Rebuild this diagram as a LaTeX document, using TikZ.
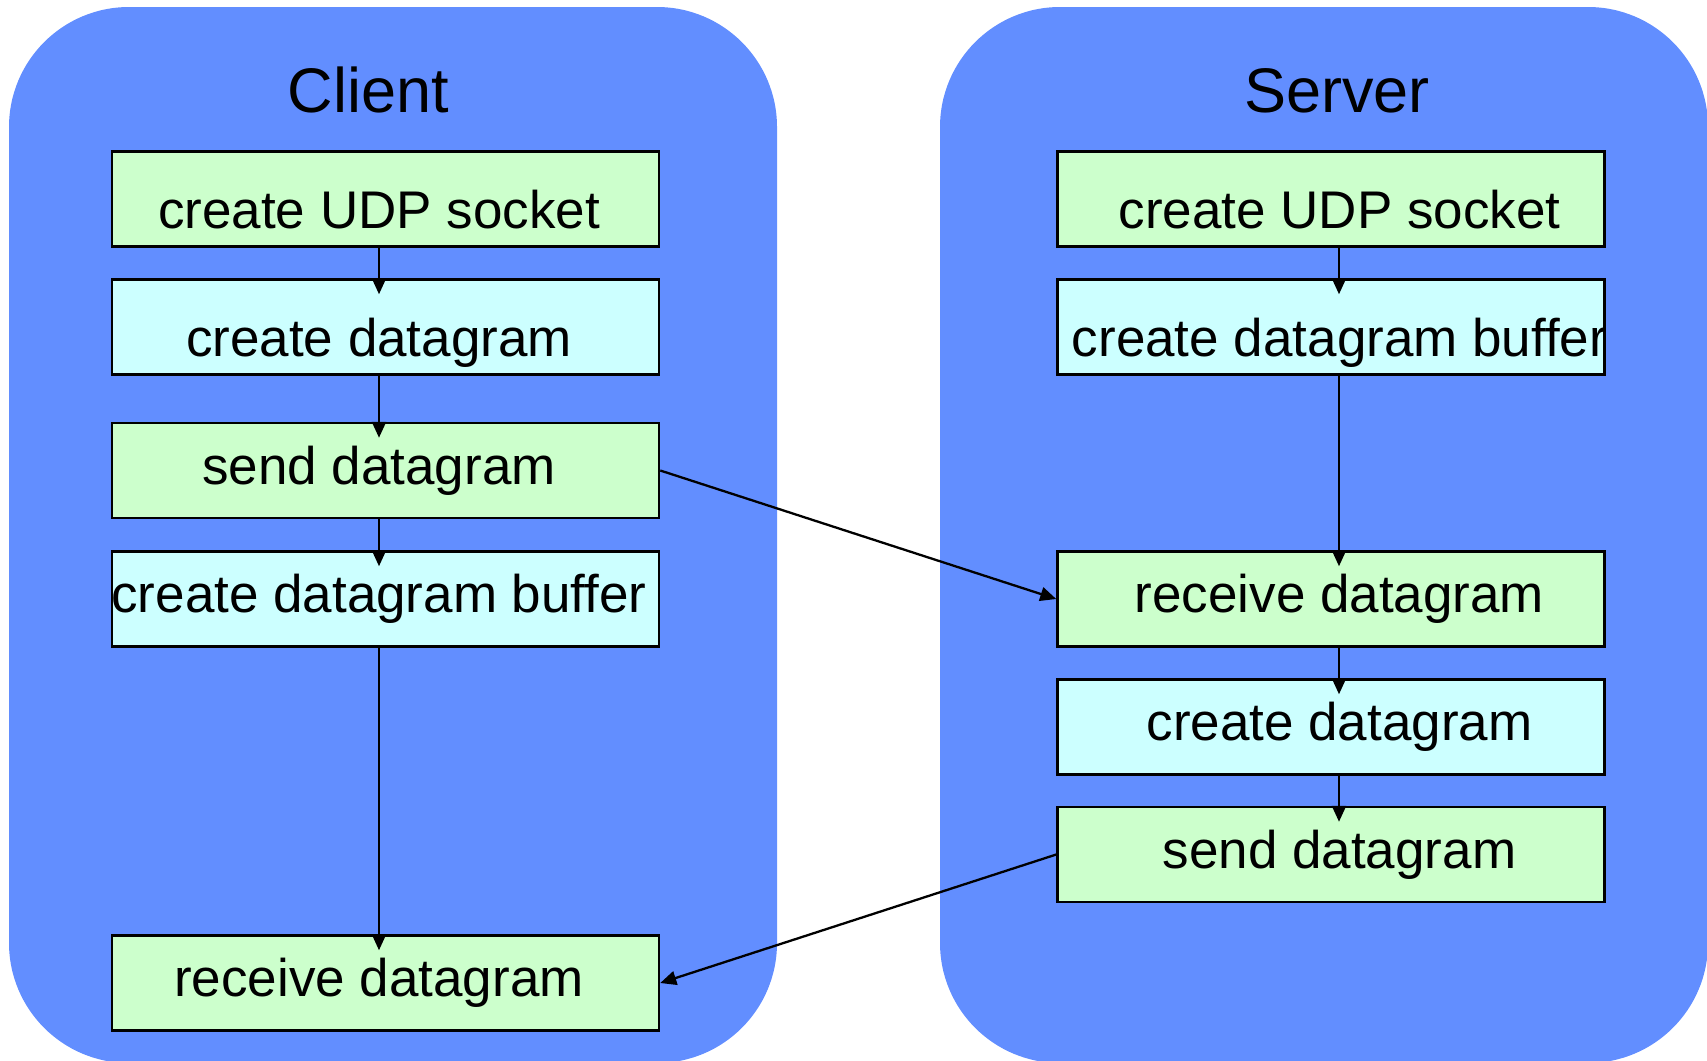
\documentclass[tikz,border=0pt]{standalone}
\usepackage{fontspec}
\setmainfont{Liberation Sans}
\usetikzlibrary{arrows.meta}
\definecolor{panelblue}{RGB}{98,142,255}
\definecolor{boxgreen}{RGB}{204,255,204}
\definecolor{boxcyan}{RGB}{204,255,255}
\tikzset{
  panel/.style={fill=panelblue, rounded corners=120pt},
  title/.style={font=\fontsize{63}{70}\selectfont, anchor=base},
  box/.style={draw, line width=2.5pt, minimum width=547pt, minimum height=95pt,
    inner sep=0pt, font=\fontsize{53}{60}\selectfont, text height=38pt, text depth=11pt},
  lowtext/.style={text height=60pt, text depth=2pt},
  opbox/.style={box, fill=boxgreen},
  databox/.style={box, fill=boxcyan},
  txtshift/.style={execute at begin node={\hspace*{#1}}, execute at end node={\hspace*{-#1}}},
  flow/.style={line width=2.3pt, -{Triangle[length=16pt,width=14pt]}},
  down/.style={flow, shorten >=-16pt},
}
\begin{document}
\begin{tikzpicture}[x=1pt, y=-1pt]
\useasboundingbox (0,0) rectangle (1707,1060);
% 背景
\fill[panel] (9,7) rectangle (777,1063);
\fill[panel] (940,7) rectangle (1708,1063);
% 标题
\node[title] (ctitle) at (368.5,112) {Client};
\node[title] (stitle) at (1337,112) {Server};
% 箭头所在列
\coordinate (cx) at (379,0);
\coordinate (sx) at (1339,0);
% 客户端
\node[opbox, lowtext, txtshift=-6.5pt] (c1) at (385.5,199) {create UDP socket};
\node[databox, lowtext, txtshift=-6.5pt] (c2) at (385.5,327) {create datagram};
\node[opbox, txtshift=-6.5pt] (c3) at (385.5,470.5) {send datagram};
\node[databox, txtshift=-6.5pt] (c4) at (385.5,599) {create datagram buffer};
\node[opbox, txtshift=-6.5pt] (c5) at (385.5,983) {receive datagram};
% 服务器
\node[opbox, lowtext, txtshift=8.5pt] (s1) at (1331,199) {create UDP socket};
\node[databox, lowtext, txtshift=8.5pt] (s2) at (1331,327) {create datagram buffer};
\node[opbox, txtshift=8.5pt] (s3) at (1331,599) {receive datagram};
\node[databox, txtshift=8.5pt] (s4) at (1331,727) {create datagram};
\node[opbox, txtshift=8.5pt] (s5) at (1331,854.5) {send datagram};
% 流程
\draw[down] (c1.south -| cx) -- (c2.north -| cx);
\draw[down] (c2.south -| cx) -- (c3.north -| cx);
\draw[down] (c3.south -| cx) -- (c4.north -| cx);
\draw[down] (c4.south -| cx) -- (c5.north -| cx);
\draw[down] (s1.south -| sx) -- (s2.north -| sx);
\draw[down] (s2.south -| sx) -- (s3.north -| sx);
\draw[down] (s3.south -| sx) -- (s4.north -| sx);
\draw[down] (s4.south -| sx) -- (s5.north -| sx);
% 数据报
\draw[flow] (c3.east) -- (s3.west);
\draw[flow] (s5.west) -- (c5.east);
\end{tikzpicture}
\end{document}
